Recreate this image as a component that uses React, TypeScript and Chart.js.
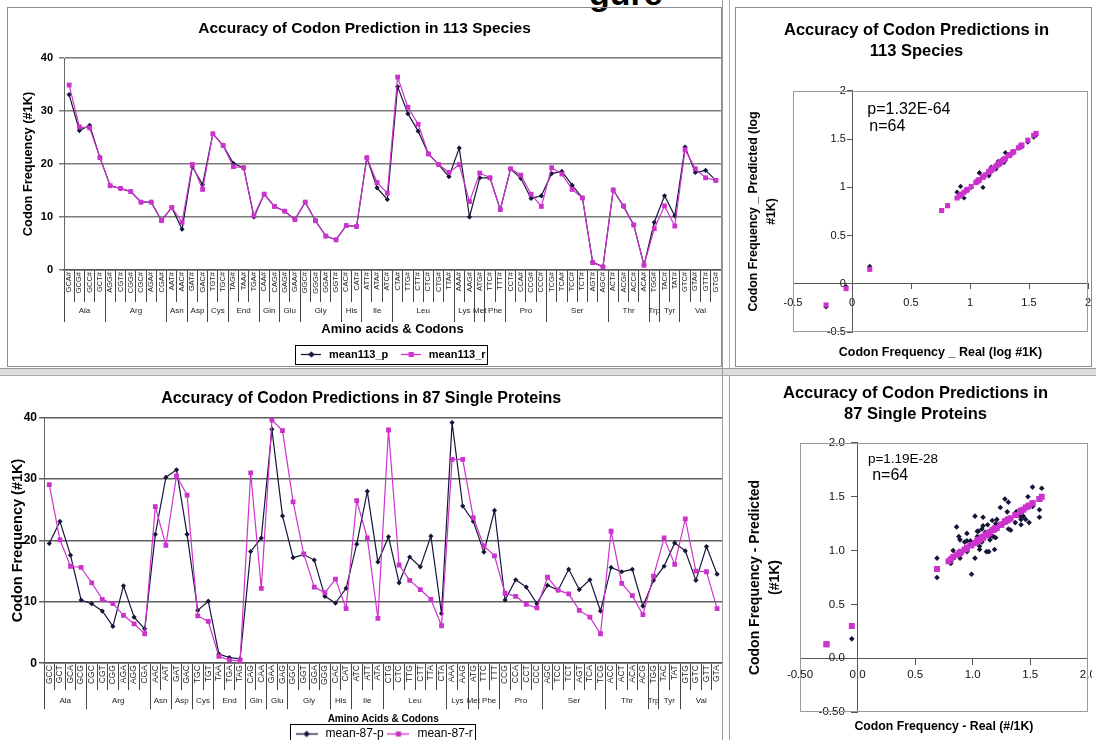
import React, { useEffect, useRef } from 'react';
import { Chart, registerables } from 'chart.js';

Chart.register(...registerables);

const FONT = '"Liberation Sans", Arial, Helvetica, sans-serif';
Chart.defaults.font.family = FONT;
Chart.defaults.color = '#000';

const BLACK = '#15153a';
const MAGENTA = '#cc33cc';

// ---------------- data ----------------
const aminoAcids = ['Ala', 'Arg', 'Asn', 'Asp', 'Cys', 'End', 'Gln', 'Glu', 'Gly', 'His', 'Ile', 'Leu', 'Lys', 'Met', 'Phe', 'Pro', 'Ser', 'Thr', 'Trp', 'Tyr', 'Val'];
const codonsPerAmino = [4, 6, 2, 2, 2, 3, 2, 2, 4, 2, 3, 6, 2, 1, 2, 4, 6, 4, 1, 2, 4];

const speciesCodons = ['GCA#', 'GCG#', 'GCC#', 'GCT#', 'AGG#', 'CGT#', 'CGG#', 'CGC#', 'AGA#', 'CGA#', 'AAT#', 'AAC#', 'GAT#', 'GAC#', 'TGT#', 'TGC#', 'TAG#', 'TAA#', 'TGA#', 'CAA#', 'CAG#', 'GAG#', 'GAA#', 'GGC#', 'GGG#', 'GGA#', 'GGT#', 'CAC#', 'CAT#', 'ATT#', 'ATA#', 'ATC#', 'CTA#', 'TTG#', 'CTT#', 'CTC#', 'CTG#', 'TTA#', 'AAA#', 'AAG#', 'ATG#', 'TTC#', 'TTT#', 'CCT#', 'CCA#', 'CCG#', 'CCC#', 'TCG#', 'TCA#', 'TCC#', 'TCT#', 'AGT#', 'AGC#', 'ACT#', 'ACG#', 'ACC#', 'ACA#', 'TGG#', 'TAC#', 'TAT#', 'GTC#', 'GTA#', 'GTT#', 'GTG#'];
const speciesPredicted = [33.1, 26.3, 27.3, 21.2, 15.9, 15.4, 14.8, 12.8, 12.8, 9.3, 11.8, 7.7, 19.5, 16.1, 25.7, 23.5, 20.1, 19.3, 10.0, 14.3, 12.0, 11.1, 9.5, 12.8, 9.3, 6.4, 5.7, 8.4, 8.2, 21.2, 15.5, 13.3, 34.6, 29.5, 26.2, 21.9, 19.9, 17.6, 23.0, 10.0, 17.4, 17.4, 11.4, 19.1, 17.3, 13.5, 14.0, 18.2, 18.6, 16.0, 13.6, 1.5, 0.6, 15.1, 12.0, 8.5, 0.9, 9.0, 14.0, 10.2, 23.2, 18.4, 18.8, 16.9];
const speciesReal = [34.9, 27.0, 26.8, 21.2, 15.9, 15.4, 14.8, 12.8, 12.8, 9.3, 11.8, 9.0, 19.9, 15.2, 25.7, 23.5, 19.5, 19.3, 10.3, 14.3, 12.0, 11.1, 9.5, 12.8, 9.3, 6.4, 5.7, 8.4, 8.2, 21.2, 16.5, 14.5, 36.4, 30.7, 27.5, 21.9, 19.9, 18.4, 19.9, 12.9, 18.3, 17.4, 11.4, 19.1, 17.9, 14.3, 12.0, 19.3, 18.1, 15.2, 13.6, 1.4, 0.6, 15.1, 12.1, 8.5, 0.9, 7.8, 12.1, 8.3, 22.7, 19.1, 17.4, 16.9];

const proteinCodons = ['GCC', 'GCT', 'GCA', 'GCG', 'CGC', 'CGT', 'CGG', 'AGA', 'AGG', 'CGA', 'AAC', 'AAT', 'GAT', 'GAC', 'TGC', 'TGT', 'TAA', 'TGA', 'TAG', 'CAG', 'CAA', 'GAA', 'GAG', 'GGC', 'GGT', 'GGA', 'GGG', 'CAC', 'CAT', 'ATC', 'ATT', 'ATA', 'CTG', 'CTC', 'TTG', 'CTT', 'TTA', 'CTA', 'AAA', 'AAG', 'ATG', 'TTC', 'TTT', 'CCG', 'CCA', 'CCT', 'CCC', 'AGC', 'TCC', 'TCT', 'AGT', 'TCA', 'TCG', 'ACC', 'ACT', 'ACA', 'ACG', 'TGG', 'TAC', 'TAT', 'GTG', 'GTC', 'GTT', 'GTA'];
const proteinPredicted = [19.5, 23.1, 17.6, 10.3, 9.7, 8.5, 6.0, 12.6, 7.5, 5.6, 21.0, 30.3, 31.5, 21.0, 8.6, 10.1, 1.5, 0.9, 0.7, 18.2, 20.4, 38.1, 24.0, 17.2, 17.7, 16.8, 10.9, 9.8, 12.2, 19.4, 28.0, 16.5, 20.6, 13.1, 17.3, 15.7, 20.7, 8.1, 39.2, 25.6, 23.1, 18.1, 24.9, 10.3, 13.6, 12.4, 9.7, 12.7, 11.9, 15.3, 12.0, 13.6, 8.5, 15.6, 14.9, 15.3, 9.3, 13.5, 15.8, 19.6, 18.3, 13.5, 19.0, 14.5];
const proteinReal = [29.1, 20.1, 15.8, 15.6, 13.1, 10.4, 9.7, 7.8, 6.4, 4.8, 25.5, 19.2, 30.5, 27.4, 7.7, 6.8, 1.1, 0.5, 0.4, 31.0, 12.2, 39.6, 37.9, 26.3, 17.8, 12.4, 11.5, 13.7, 8.9, 26.5, 20.4, 7.3, 38.0, 16.0, 13.5, 12.0, 10.4, 6.1, 33.2, 33.2, 23.7, 19.1, 17.5, 11.4, 10.9, 9.6, 9.0, 14.0, 11.9, 11.3, 8.6, 7.5, 4.8, 21.5, 13.0, 11.0, 7.9, 14.2, 20.4, 16.1, 23.5, 15.0, 14.9, 8.9];

const speciesLogReal = [1.54, 1.43, 1.43, 1.33, 1.20, 1.19, 1.17, 1.11, 1.11, 0.97, 1.07, 0.95, 1.30, 1.18, 1.41, 1.37, 1.29, 1.29, 1.01, 1.16, 1.08, 1.05, 0.98, 1.11, 0.97, 0.81, 0.76, 0.92, 0.91, 1.33, 1.22, 1.16, 1.56, 1.49, 1.44, 1.34, 1.30, 1.26, 1.30, 1.11, 1.26, 1.24, 1.06, 1.28, 1.25, 1.16, 1.08, 1.29, 1.26, 1.18, 1.13, 0.15, -0.22, 1.18, 1.08, 0.93, -0.05, 0.89, 1.08, 0.92, 1.36, 1.28, 1.24, 1.23];
const speciesLogPred = [1.52, 1.42, 1.44, 1.33, 1.20, 1.19, 1.17, 1.11, 1.11, 0.97, 1.07, 0.89, 1.29, 1.21, 1.41, 1.37, 1.30, 1.29, 1.00, 1.16, 1.08, 1.05, 0.98, 1.11, 0.97, 0.81, 0.76, 0.92, 0.91, 1.33, 1.19, 1.12, 1.54, 1.47, 1.42, 1.34, 1.30, 1.25, 1.36, 1.00, 1.24, 1.24, 1.06, 1.28, 1.24, 1.13, 1.15, 1.26, 1.27, 1.20, 1.13, 0.18, -0.24, 1.18, 1.08, 0.93, -0.03, 0.95, 1.15, 1.01, 1.37, 1.27, 1.27, 1.23];

const proteinLogReal = [1.46, 1.30, 1.20, 1.19, 1.12, 1.02, 0.99, 0.89, 0.81, 0.69, 1.41, 1.28, 1.48, 1.44, 0.89, 0.83, -0.05, -0.27, -0.27, 1.49, 1.09, 1.60, 1.58, 1.42, 1.25, 1.09, 1.06, 1.14, 0.95, 1.42, 1.31, 0.86, 1.58, 1.20, 1.13, 1.08, 1.02, 0.79, 1.52, 1.52, 1.38, 1.28, 1.24, 1.06, 1.04, 0.98, 0.95, 1.15, 1.08, 1.05, 0.93, 0.88, 0.69, 1.33, 1.11, 1.04, 0.90, 1.15, 1.31, 1.21, 1.37, 1.18, 1.17, 0.95];
const proteinLogPred = [1.29, 1.36, 1.25, 1.01, 0.99, 0.93, 0.78, 1.10, 0.88, 0.75, 1.32, 1.48, 1.50, 1.32, 0.93, 1.00, 0.18, null, null, 1.26, 1.31, 1.58, 1.38, 1.24, 1.25, 1.23, 1.04, 0.99, 1.09, 1.29, 1.45, 1.22, 1.31, 1.12, 1.24, 1.20, 1.32, 0.91, 1.59, 1.41, 1.36, 1.26, 1.40, 1.01, 1.13, 1.09, 0.99, 1.10, 1.08, 1.18, 1.08, 1.13, 0.93, 1.19, 1.17, 1.18, 0.97, 1.13, 1.20, 1.29, 1.26, 1.13, 1.28, 1.16];
const proteinLogFit = [1.40, 1.28, 1.21, 1.20, 1.15, 1.07, 1.05, 0.98, 0.92, 0.83, 1.36, 1.27, 1.41, 1.38, 0.98, 0.94, 0.30, 0.13, 0.13, 1.42, 1.12, 1.50, 1.48, 1.37, 1.24, 1.13, 1.10, 1.16, 1.02, 1.37, 1.29, 0.96, 1.48, 1.21, 1.15, 1.12, 1.07, 0.90, 1.44, 1.44, 1.33, 1.27, 1.24, 1.10, 1.09, 1.05, 1.03, 1.17, 1.12, 1.10, 1.01, 0.97, 0.83, 1.30, 1.14, 1.09, 0.99, 1.17, 1.29, 1.21, 1.33, 1.19, 1.19, 1.02];

// ---------------- helpers ----------------
function groupLayout() {
  const bounds: number[] = [-0.5];
  const centers: number[] = [];
  let start = 0;
  codonsPerAmino.forEach((n) => {
    centers.push(start + (n - 1) / 2);
    start += n;
    bounds.push(start - 0.5);
  });
  return { bounds, centers };
}

function legendIcon(color: string, kind: 'diamond' | 'square', w: number) {
  const c = document.createElement('canvas');
  c.width = w;
  c.height = 9;
  const g = c.getContext('2d') as CanvasRenderingContext2D;
  g.strokeStyle = color;
  g.lineWidth = 1.3;
  g.beginPath();
  g.moveTo(0, 4.5);
  g.lineTo(w, 4.5);
  g.stroke();
  g.fillStyle = color;
  const m = w / 2;
  if (kind === 'diamond') {
    g.beginPath();
    g.moveTo(m, 1.3);
    g.lineTo(m + 3.2, 4.5);
    g.lineTo(m, 7.7);
    g.lineTo(m - 3.2, 4.5);
    g.closePath();
    g.fill();
  } else {
    g.fillRect(m - 2.6, 1.9, 5.2, 5.2);
  }
  return c;
}

const legendFrame = {
  id: 'legendFrame',
  afterDraw(chart: any) {
    const boxes = chart.legend && chart.legend.legendHitBoxes;
    if (!boxes || !boxes.length) return;
    let l = Infinity, t = Infinity, r = -Infinity, b = -Infinity;
    for (const h of boxes) {
      l = Math.min(l, h.left);
      t = Math.min(t, h.top);
      r = Math.max(r, h.left + h.width);
      b = Math.max(b, h.top + h.height);
    }
    const ctx = chart.ctx;
    ctx.save();
    ctx.strokeStyle = '#000';
    ctx.lineWidth = 1;
    ctx.strokeRect(Math.round(l - 4) + 0.5, Math.round(t - 4) + 0.5, Math.round(r - l + 6), Math.round(b - t + 8));
    ctx.restore();
  },
};

const plotFrame = {
  id: 'plotFrame',
  beforeDatasetsDraw(chart: any) {
    const { left, top, right, bottom } = chart.chartArea;
    const ctx = chart.ctx;
    ctx.save();
    ctx.strokeStyle = '#9a9a9a';
    ctx.lineWidth = 1;
    ctx.strokeRect(Math.round(left) + 0.5, Math.round(top) + 0.5, Math.round(right - left) - 1, Math.round(bottom - top) - 1);
    ctx.restore();
  },
};

function notesPlugin(notes: { text: string; size: number; x: number; y: number }[]) {
  return {
    id: 'notes',
    afterDatasetsDraw(chart: any) {
      const ctx = chart.ctx;
      const xs = chart.scales.x;
      const ys = chart.scales.y;
      ctx.save();
      ctx.fillStyle = '#000';
      ctx.textBaseline = 'middle';
      ctx.textAlign = 'left';
      notes.forEach((n) => {
        ctx.font = `${n.size}px ${FONT}`;
        ctx.fillText(n.text, xs.getPixelForValue(n.x), ys.getPixelForValue(n.y));
      });
      ctx.restore();
    },
  };
}

// ---------------- line chart config ----------------
function makeLineConfig(s: any): any {
  const { bounds, centers } = groupLayout();
  const icons = [legendIcon(BLACK, 'diamond', s.iconW), legendIcon(MAGENTA, 'square', s.iconW)];
  return {
    type: 'line',
    data: {
      labels: s.labels,
      datasets: [
        { label: s.names[0], data: s.black, borderColor: BLACK, backgroundColor: BLACK, borderWidth: 1.2, pointStyle: 'rectRot', pointRadius: 2.6, pointBorderWidth: 0, order: 1, xAxisID: 'x', yAxisID: 'y' },
        { label: s.names[1], data: s.magenta, borderColor: MAGENTA, backgroundColor: MAGENTA, borderWidth: 1.2, pointStyle: 'rect', pointRadius: 3.4, pointBorderWidth: 0, order: 0, xAxisID: 'x', yAxisID: 'y' },
      ],
    },
    options: {
      responsive: false,
      animation: false,
      devicePixelRatio: 1,
      layout: { padding: { left: 0, right: s.padRight, top: 0, bottom: 0 } },
      plugins: {
        tooltip: { enabled: false },
        title: {
          display: true,
          text: s.title,
          color: '#000',
          font: { size: s.titleFont, weight: 'bold', lineHeight: 1.2 },
          padding: { top: s.titlePad[0], bottom: s.titlePad[1] },
        },
        legend: {
          position: 'bottom',
          fullSize: false,
          labels: {
            usePointStyle: true,
            pointStyleWidth: s.iconW + 4,
            padding: s.legendPad,
            color: '#000',
            font: { size: s.legendFont, weight: s.legendBold ? 'bold' : 'normal' },
            generateLabels: (chart: any) =>
              chart.data.datasets.map((ds: any, i: number) => ({
                text: ds.label,
                pointStyle: icons[i],
                fillStyle: 'rgba(0,0,0,0)',
                strokeStyle: 'rgba(0,0,0,0)',
                lineWidth: 0,
                hidden: false,
                datasetIndex: i,
              })),
          },
        },
      },
      scales: {
        x: {
          type: 'category',
          position: 'bottom',
          offset: true,
          weight: 0,
          grid: { offset: true, drawOnChartArea: false, drawTicks: true, tickLength: s.codonH, color: '#444', lineWidth: 1 },
          border: { display: true, color: '#555', width: 1.5 },
          ticks: { autoSkip: false, minRotation: 90, maxRotation: 90, padding: 2 - s.codonH, font: { size: s.codonFont }, color: '#222' },
          afterFit: (sc: any) => { sc.height = s.codonH; },
        },
        xg: {
          type: 'linear',
          position: 'bottom',
          min: -0.5,
          max: 63.5,
          weight: 1,
          afterBuildTicks: (sc: any) => {
            sc.ticks = [...bounds, ...centers].sort((a, b) => a - b).map((v) => ({ value: v }));
          },
          ticks: {
            autoSkip: false,
            minRotation: 0,
            maxRotation: 0,
            padding: s.groupPad,
            font: { size: s.groupFont },
            color: '#222',
            callback: (v: number) => {
              const i = centers.indexOf(v);
              return i >= 0 ? aminoAcids[i] : '';
            },
          },
          grid: {
            drawOnChartArea: false,
            drawTicks: true,
            tickLength: s.groupTick,
            lineWidth: 1,
            color: (c: any) => (c.tick && bounds.includes(c.tick.value) ? '#444' : 'rgba(0,0,0,0)'),
          },
          border: { display: false },
          title: {
            display: true,
            text: s.xTitle,
            color: '#000',
            font: { size: s.xTitleFont, weight: 'bold', lineHeight: 1.2 },
            padding: { top: 0, bottom: s.xTitlePad },
          },
          afterFit: (sc: any) => { sc.height = s.groupH; },
        },
        y: {
          type: 'linear',
          position: 'left',
          min: 0,
          max: 40,
          ticks: { stepSize: 10, padding: s.yTickPad, color: '#000', font: { size: s.yTickFont, weight: 'bold' } },
          grid: { color: s.gridColor, lineWidth: 1.5, drawTicks: true, tickLength: 5 },
          border: { display: true, color: '#666', width: 1 },
          title: {
            display: true,
            text: s.yTitle,
            color: '#000',
            font: { size: s.yTitleFont, weight: 'bold', lineHeight: 1.2 },
            padding: { top: s.yTitlePad, bottom: 0 },
          },
          afterFit: (sc: any) => { sc.width = s.yWidth; },
        },
      },
    },
    plugins: [legendFrame],
  };
}

// ---------------- scatter config ----------------
function makeScatterConfig(s: any): any {
  const gap = ' '.repeat(s.ySpaces);
  return {
    type: 'scatter',
    data: {
      datasets: [
        { label: 'predicted', data: s.xs.map((x: number, i: number) => ({ x, y: s.blackYs[i] })), pointStyle: 'rectRot', pointRadius: s.blackR, backgroundColor: BLACK, borderWidth: 0, order: 1, xAxisID: 'x', yAxisID: 'y' },
        { label: 'fit', data: s.xs.map((x: number, i: number) => ({ x, y: s.magentaYs[i] })), pointStyle: 'rect', pointRadius: s.magentaR, backgroundColor: MAGENTA, borderWidth: 0, order: 0, xAxisID: 'x', yAxisID: 'y' },
      ],
    },
    options: {
      responsive: false,
      animation: false,
      devicePixelRatio: 1,
      layout: { padding: s.padding },
      plugins: {
        legend: { display: false },
        tooltip: { enabled: false },
        title: {
          display: true,
          text: s.titleLines,
          color: '#000',
          font: { size: s.titleFont, weight: 'bold', lineHeight: s.titleLH },
          padding: { top: s.titlePad[0], bottom: s.titlePad[1] },
        },
      },
      scales: {
        x: {
          type: 'linear',
          min: -0.5,
          max: 2,
          position: { y: 0 },
          ticks: { stepSize: 0.5, padding: s.xTickPad, color: '#111', font: { size: s.tickFont }, callback: (v: number) => s.fmt(v) },
          grid: { drawOnChartArea: false, drawTicks: true, tickLength: s.tickLen, color: '#555' },
          border: { display: true, color: '#555', width: 1 },
          afterFit: (sc: any) => { sc.paddingLeft = 0; sc.paddingRight = 0; },
        },
        y: {
          type: 'linear',
          min: -0.5,
          max: 2,
          position: { x: 0 },
          ticks: { stepSize: 0.5, padding: 0, color: '#111', font: { size: s.tickFont }, callback: (v: number) => s.fmt(v) + gap },
          grid: { drawOnChartArea: false, drawTicks: true, tickLength: s.tickLen, color: '#555' },
          border: { display: true, color: '#555', width: 1 },
          afterFit: (sc: any) => { sc.paddingTop = 0; sc.paddingBottom = 0; },
        },
        xT: {
          type: 'linear',
          position: 'bottom',
          ticks: { display: false },
          grid: { display: false },
          border: { display: false },
          title: { display: true, text: s.xTitle, color: '#000', font: { size: s.xTitleFont, weight: 'bold', lineHeight: 1.2 }, padding: { top: 0, bottom: s.xTitlePad } },
          afterFit: (sc: any) => { sc.height = s.xTitleH; },
        },
        yT: {
          type: 'linear',
          position: 'left',
          ticks: { display: false },
          grid: { display: false },
          border: { display: false },
          title: { display: true, text: s.yTitleLines, color: '#000', font: { size: s.yTitleFont, weight: 'bold', lineHeight: s.yTitleLH }, padding: { top: s.yTitlePad, bottom: 0 } },
          afterFit: (sc: any) => { sc.width = s.yTWidth; },
        },
      },
    },
    plugins: [plotFrame, notesPlugin(s.notes)],
  };
}

// ---------------- components ----------------
function ChartBox(props: { left: number; top: number; clipW: number; clipH: number; w: number; h: number; make: () => any }) {
  const ref = useRef<HTMLCanvasElement>(null);
  useEffect(() => {
    const chart = new Chart(ref.current as HTMLCanvasElement, props.make());
    return () => chart.destroy();
  }, []);
  return (
    <div style={{ position: 'absolute', left: props.left, top: props.top, width: props.clipW, height: props.clipH, overflow: 'hidden' }}>
      <canvas ref={ref} width={props.w} height={props.h} style={{ display: 'block', width: props.w, height: props.h }} />
    </div>
  );
}

const speciesLine = () =>
  makeLineConfig({
    labels: speciesCodons,
    black: speciesPredicted,
    magenta: speciesReal,
    names: ['mean113_p', 'mean113_r'],
    title: 'Accuracy of Codon Prediction in 113 Species',
    titleFont: 15.5,
    titlePad: [11, 20.4],
    yTitle: 'Codon Frequency (#1K)',
    yTitleFont: 12.8,
    yTitlePad: 12.3,
    yTickFont: 11,
    yTickPad: 6,
    yWidth: 56,
    codonH: 32,
    codonFont: 7.5,
    groupH: 36,
    groupTick: 20,
    groupPad: -15.6,
    groupFont: 8,
    xTitle: 'Amino acids & Codons',
    xTitleFont: 13,
    xTitlePad: 1.2,
    legendFont: 11,
    legendBold: true,
    legendPad: 11,
    iconW: 20,
    padRight: 17,
    gridColor: '#7a7a7a',
  });

const proteinLine = () =>
  makeLineConfig({
    labels: proteinCodons,
    black: proteinPredicted,
    magenta: proteinReal,
    names: ['mean-87-p', 'mean-87-r'],
    title: 'Accuracy of Codon Predictions in 87 Single Proteins',
    titleFont: 16,
    titlePad: [10.5, 10.0],
    yTitle: 'Codon Frequency (#1K)',
    yTitleFont: 14.5,
    yTitlePad: 9.3,
    yTickFont: 12,
    yTickPad: 2,
    yWidth: 44,
    codonH: 27,
    codonFont: 8.5,
    groupH: 36,
    groupTick: 19,
    groupPad: -13.3,
    groupFont: 8,
    xTitle: 'Amino Acids & Codons',
    xTitleFont: 10,
    xTitlePad: 0.7,
    legendFont: 12,
    legendBold: false,
    legendPad: 1.8,
    iconW: 22,
    padRight: 17.6,
    gridColor: '#5e5e5e',
  });

const speciesScatter = () =>
  makeScatterConfig({
    xs: speciesLogReal,
    blackYs: speciesLogPred,
    magentaYs: speciesLogReal,
    blackR: 2.6,
    magentaR: 3.6,
    titleLines: ['Accuracy of Codon Predictions in', '113 Species'],
    titleFont: 16.5,
    titleLH: 1.33,
    titlePad: [11, 28.1],
    yTitleLines: ['Codon Frequency _ Predicted (log', '#1K)'],
    yTitleFont: 12.3,
    yTitleLH: 1.4,
    yTitlePad: 1.4,
    yTWidth: 49,
    xTitle: 'Codon Frequency _ Real (log #1K)',
    xTitleFont: 12.5,
    xTitlePad: 1.5,
    xTitleH: 30,
    padding: { left: 8, right: 3, top: 0, bottom: 8 },
    tickFont: 11,
    tickLen: 5,
    xTickPad: 7.4,
    ySpaces: 2,
    fmt: (v: number) => String(Number(v)),
    notes: [
      { text: 'p=1.32E-64', size: 16, x: 0.13, y: 1.81 },
      { text: 'n=64', size: 16, x: 0.147, y: 1.63 },
    ],
  });

const proteinScatter = () =>
  makeScatterConfig({
    xs: proteinLogReal,
    blackYs: proteinLogPred,
    magentaYs: proteinLogFit,
    blackR: 2.8,
    magentaR: 4.2,
    titleLines: ['Accuracy of Codon Predictions in', '87 Single Proteins'],
    titleFont: 16.5,
    titleLH: 1.33,
    titlePad: [4, 17.1],
    yTitleLines: ['Codon Frequency - Predicted', '(#1K)'],
    yTitleFont: 14,
    yTitleLH: 1.43,
    yTitlePad: 2,
    yTWidth: 57,
    xTitle: 'Codon Frequency - Real (#/1K)',
    xTitleFont: 12.3,
    xTitlePad: 5.6,
    xTitleH: 28,
    padding: { left: 12, right: 4, top: 0, bottom: 0 },
    tickFont: 11.5,
    tickLen: 6,
    xTickPad: 4,
    ySpaces: 4,
    fmt: (v: number) => (Number(v) === -0.5 ? '-0.50' : Number(v).toFixed(1)),
    notes: [
      { text: 'p=1.19E-28', size: 13.5, x: 0.09, y: 1.85 },
      { text: 'n=64', size: 16, x: 0.127, y: 1.7 },
    ],
  });

export default function App() {
  return (
    <div style={{ position: 'absolute', left: 0, top: 0, width: 1096, height: 740, overflow: 'hidden', background: '#fff', fontFamily: FONT }}>
      <div style={{ position: 'absolute', left: 589, top: -24, fontSize: 34, lineHeight: '34px', fontWeight: 'bold', color: '#000', whiteSpace: 'nowrap' }}>gure</div>
      {/* panel frames */}
      <div style={{ position: 'absolute', left: 7, top: 7, width: 715, height: 360, border: '1px solid #8c8c8c', boxSizing: 'border-box' }} />
      <div style={{ position: 'absolute', left: 735, top: 7, width: 357, height: 360, border: '1px solid #8c8c8c', boxSizing: 'border-box' }} />
      <div style={{ position: 'absolute', left: 0, top: 368, width: 1096, height: 8, background: '#dcdcdc', borderTop: '1px solid #999', borderBottom: '1px solid #aaa', boxSizing: 'border-box' }} />
      <div style={{ position: 'absolute', left: 722, top: 0, width: 1, height: 740, background: '#9a9a9a' }} />
      <div style={{ position: 'absolute', left: 729, top: 376, width: 1, height: 364, background: '#9a9a9a' }} />
      <div style={{ position: 'absolute', left: 729, top: 0, width: 1, height: 368, background: '#b0b0b0' }} />

      <ChartBox left={8} top={8} clipW={713} clipH={359} w={730} h={362} make={speciesLine} />
      <ChartBox left={736} top={8} clipW={355} clipH={358} w={356} h={362} make={speciesScatter} />
      <ChartBox left={0} top={378} clipW={722} clipH={362} w={740} h={372} make={proteinLine} />
      <ChartBox left={731} top={378} clipW={365} clipH={362} w={361} h={362} make={proteinScatter} />
    </div>
  );
}
